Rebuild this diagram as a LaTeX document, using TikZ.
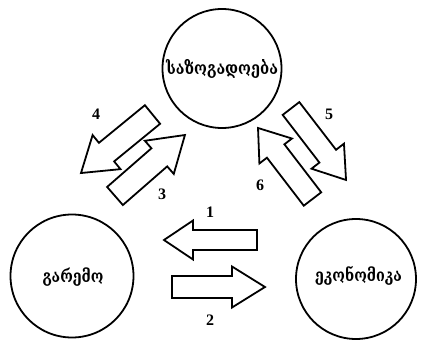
\documentclass[tikz,border=0pt]{standalone}
\usepackage{fontspec}
\setmainfont{Liberation Serif}
\newfontfamily\geo{DejaVu Serif}
\begin{document}
\begin{tikzpicture}[x=1pt,y=-1pt,
  circ/.style={draw=black, line width=1.8pt, circle, inner sep=0pt},
  gtext/.style={inner sep=0pt, font=\geo\bfseries},
  num/.style={inner sep=0pt, font=\fontsize{16}{16}\selectfont\bfseries},
  arrowline/.style={draw=black, line width=1.8pt, line join=miter, fill=white}]
\useasboundingbox[fill=white] (0,0) rectangle (421,340);
\newcommand{\barrow}[6]{%
  \begin{scope}[shift={#1}, rotate=#2]
  \draw[arrowline] (0,#4) -- ({#3-#6},#4) -- ({#3-#6},#5) -- (#3,0)
     -- ({#3-#6},-#5) -- ({#3-#6},-#4) -- (0,-#4) -- cycle;
  \end{scope}}
% circles
\node[circ, minimum size=119pt] (soc) at (222,68.5) {};
\node[circ, minimum size=123pt] (env) at (72,276) {};
\node[circ, minimum size=120pt] (eco) at (356,279) {};
\node[gtext] (soct) at (soc) {\scalebox{1}[1.2]{\resizebox{112pt}{!}{საზოგადოება}}};
\node[gtext] (envt) at (73,277) {\scalebox{1}[1.2]{\resizebox{61pt}{!}{გარემო}}};
\node[gtext] (ecot) at (358.5,276) {\scalebox{1}[1.2]{\resizebox{87pt}{!}{ეკონომიკა}}};
% block arrows
\barrow{(257,240)}{180}{93}{10}{19.5}{29}
\barrow{(172,287)}{0}{93}{11}{20.5}{33}
\barrow{(152.5,114.5)}{219.3}{92.4}{12}{22}{33}
\barrow{(115,196)}{41.1}{92.8}{12}{22}{34}
\barrow{(291,108.5)}{-52.4}{90.2}{10.5}{20.5}{30}
\barrow{(312.5,199)}{127.5}{89.5}{11}{20.5}{29}
% labels
\node[num] (n1) at (210,212) {1};
\node[num] (n2) at (210,320) {2};
\node[num] (n3) at (162,194) {3};
\node[num] (n4) at (96,114) {4};
\node[num] (n5) at (329,114) {5};
\node[num] (n6) at (260,185) {6};
\end{tikzpicture}
\end{document}
